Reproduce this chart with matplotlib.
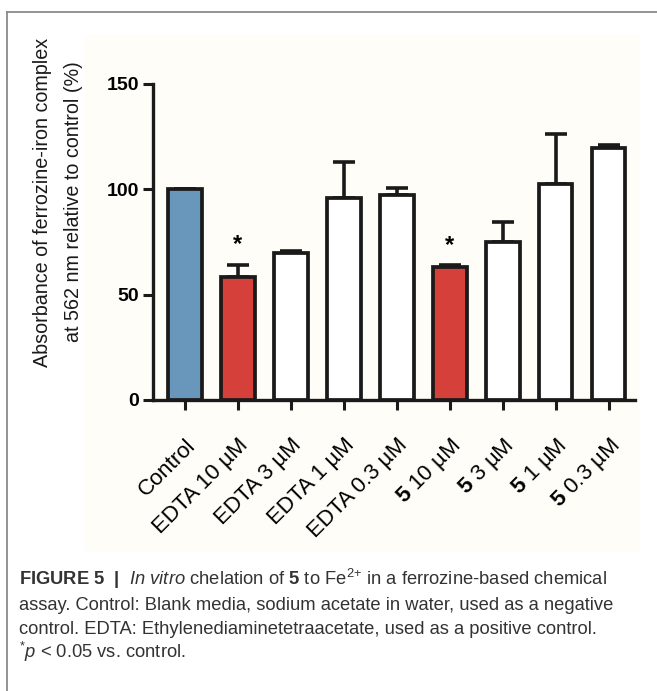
import numpy as np
import matplotlib
matplotlib.use('Agg')
import matplotlib.pyplot as plt
from matplotlib import font_manager
from matplotlib.lines import Line2D
from matplotlib.patches import Rectangle

# data
labels = ['Control', 'EDTA 10 µM', 'EDTA 3 µM', 'EDTA 1 µM', 'EDTA 0.3 µM',
          r'$\mathbf{5}$ 10 µM', r'$\mathbf{5}$ 3 µM', r'$\mathbf{5}$ 1 µM', r'$\mathbf{5}$ 0.3 µM']
means = [100, 58.5, 69.8, 96.0, 97.3, 63.2, 75.2, 102.3, 119.6]
errs = [0, 5.6, 1.0, 17.0, 3.3, 0.7, 9.3, 24.0, 1.4]
signif = [False, True, False, False, False, True, False, False, False]
colors = ['#6996bb', '#d6403a', 'white', 'white', 'white', '#d6403a', 'white', 'white', 'white']

names = {f.name for f in font_manager.fontManager.ttflist}
narrow = 'Liberation Sans Narrow' if 'Liberation Sans Narrow' in names else 'Liberation Sans'

plt.rcParams['font.family'] = ['Liberation Sans', 'DejaVu Sans']
plt.rcParams['mathtext.fontset'] = 'custom'
plt.rcParams['mathtext.rm'] = narrow
plt.rcParams['mathtext.it'] = narrow + ':italic'
plt.rcParams['mathtext.bf'] = narrow + ':bold'

W, H = 657, 691
fig = plt.figure(figsize=(W / 100, H / 100), dpi=100)

# light panel behind the chart and the page frame
fig.patches.append(Rectangle((85 / W, 1 - 550 / H), (638 - 85) / W, (550 - 35) / H,
                             transform=fig.transFigure, color='#fffdf8', zorder=-5))
fig.lines.append(Line2D([7 / W, 1], [1 - 12 / H, 1 - 12 / H], transform=fig.transFigure,
                        color='#8a8a8a', lw=1.3))
fig.lines.append(Line2D([7 / W, 7 / W], [1 - 12 / H, 0], transform=fig.transFigure,
                        color='#8a8a8a', lw=1.3))

ax = fig.add_axes([153 / W, 1 - 400 / H, (635 - 153) / W, (400 - 84) / H])
ax.patch.set_alpha(0)

x = np.arange(len(means))
ax.errorbar(x, means, yerr=[np.zeros(len(errs)), errs], fmt='none', ecolor='#1a1a1a',
            elinewidth=2.6, capsize=8, capthick=2.6, zorder=2)
ax.bar(x, means, width=0.64, color=colors, edgecolor='#1a1a1a', linewidth=2.7, zorder=3)

for xi, m, e, s in zip(x, means, errs, signif):
    if s:
        ax.text(xi, m + e + 9.5, '*', ha='center', va='center', fontsize=17, fontweight='bold')

ax.set_xlim(-0.6, 8.5)
ax.set_ylim(0, 150)
ax.set_yticks([0, 50, 100, 150])
ax.set_yticklabels(['0', '50', '100', '150'], fontsize=14, fontweight='bold')
ax.set_xticks(x)
ax.set_xticklabels(labels, rotation=45, ha='right', va='top', rotation_mode='anchor',
                   fontsize=16)
ax.tick_params(axis='both', direction='out', length=7, width=2.2, color='#1a1a1a')
ax.tick_params(axis='y', pad=3)
ax.tick_params(axis='x', pad=18)
for side in ['top', 'right']:
    ax.spines[side].set_visible(False)
for side in ['left', 'bottom']:
    ax.spines[side].set_linewidth(2.4)
    ax.spines[side].set_color('#1a1a1a')

fig.text(58 / W, 1 - 202 / H, 'Absorbance of ferrozine-iron complex\nat 562 nm relative to control (%)',
         rotation=90, ha='center', va='center', fontsize=14.2, linespacing=1.75, color='#1a1a1a')

# caption
cap_size = 14 if narrow != 'Liberation Sans' else 13.2
cap = [
    r'$\mathbf{FIGURE\ 5\ \ |}$  $\mathit{In\ vitro}$ chelation of $\mathbf{5}$ to Fe$^{2\mathrm{+}}$ in a ferrozine-based chemical',
    'assay. Control: Blank media, sodium acetate in water, used as a negative',
    'control. EDTA: Ethylenediaminetetraacetate, used as a positive control.',
    r'$^{*}\mathit{p}$ < 0.05 vs. control.',
]
for i, line in enumerate(cap):
    fig.text(19 / W, 1 - (585 + 24.5 * i) / H, line, ha='left', va='baseline',
             fontsize=cap_size, family=[narrow, 'DejaVu Sans'], color='#333333')

fig.savefig('out.png', dpi=100)
